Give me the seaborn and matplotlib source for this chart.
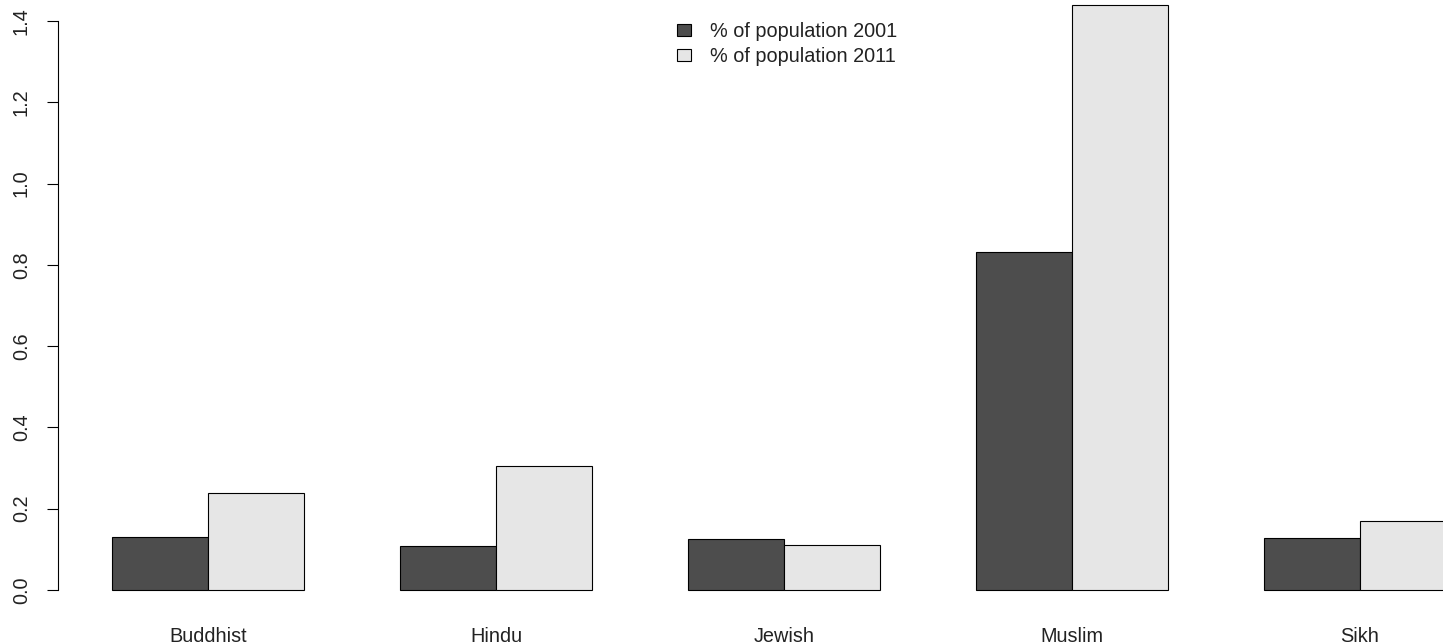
import matplotlib
matplotlib.use("Agg")

import matplotlib.pyplot as plt
import pandas as pd
import seaborn as sns
from matplotlib.patches import Patch

# valeurs (% de la population)
religions = ["Buddhist", "Hindu", "Jewish", "Muslim", "Sikh"]
pop_2001 = [0.130, 0.108, 0.125, 0.832, 0.128]
pop_2011 = [0.239, 0.305, 0.110, 1.440, 0.170]
series = ["% of population 2001", "% of population 2011"]
colors = ["#4D4D4D", "#E6E6E6"]
yticks = [0.0, 0.2, 0.4, 0.6, 0.8, 1.0, 1.2, 1.4]

df = pd.DataFrame({
    "religion": religions * 2,
    "series": [series[0]] * len(religions) + [series[1]] * len(religions),
    "value": pop_2001 + pop_2011,
})

sns.set_theme(style="white")
plt.rcParams["font.family"] = ["Liberation Sans", "DejaVu Sans"]
FS = 14.3

W, H = 1443, 644
fig = plt.figure(figsize=(W / 100, H / 100), dpi=100)
# axe placé comme la zone de tracé R (recadrée à droite et en haut)
ax = fig.add_axes([58 / W, (H - 620) / H, (W - 58) / W, 620 / H])

sns.barplot(data=df, x="religion", y="value", hue="series", order=religions,
            hue_order=series, palette=colors, saturation=1, width=2 / 3, gap=0,
            edgecolor="black", linewidth=0.8, errorbar=None, legend=False, ax=ax)

ax.set_xlim(-0.521, 4.288)
ax.set_ylim(-0.0738, 1.4518)
ax.set_xlabel("")
ax.set_ylabel("")

for side in ["top", "right", "bottom"]:
    ax.spines[side].set_visible(False)
ax.spines["left"].set_bounds(0, 1.4)
ax.spines["left"].set_color("black")
ax.spines["left"].set_linewidth(0.8)

ax.set_yticks(yticks)
ax.set_yticklabels([f"{v:.1f}" for v in yticks], rotation=90, va="center")
ax.tick_params(axis="y", left=True, length=8, width=0.8, color="black",
               pad=11.5, labelsize=FS, labelcolor="#222222")
ax.tick_params(axis="x", bottom=False, length=0, pad=5, labelsize=FS,
               labelcolor="#222222")

handles = [Patch(facecolor=c, edgecolor="black", linewidth=0.8) for c in colors]
ax.legend(handles, series, loc="upper left",
          bbox_to_anchor=(677 / W, 1 - 22 / H), bbox_transform=fig.transFigure,
          frameon=False, fontsize=FS, handlelength=0.7, handleheight=0.55,
          handletextpad=0.95, labelspacing=0.28, borderpad=0, borderaxespad=0,
          labelcolor="#222222")

fig.savefig("out.png", dpi=100)
